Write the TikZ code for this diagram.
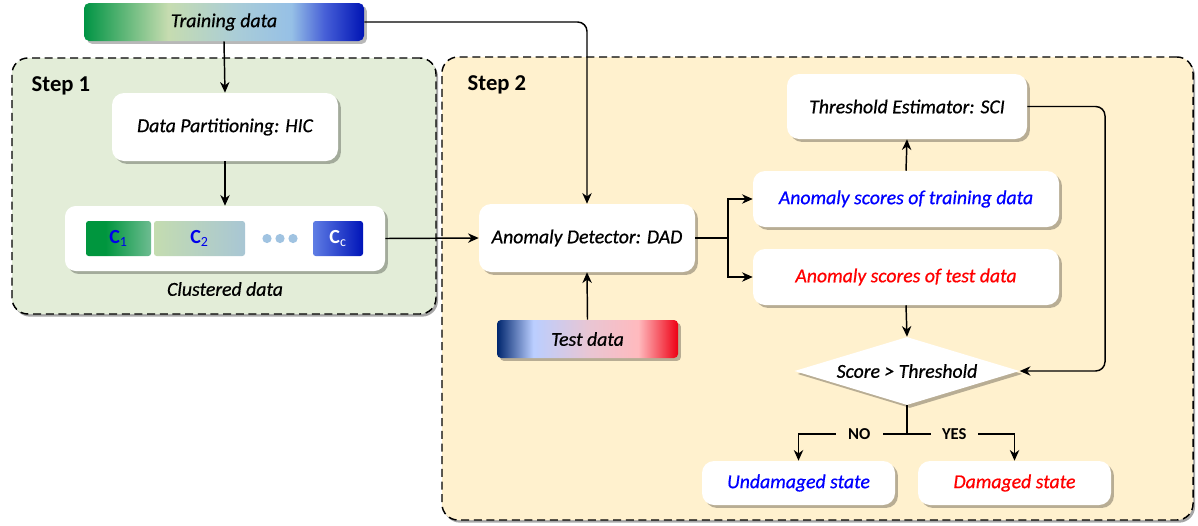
\documentclass[tikz,border=0pt]{standalone}
\usepackage{fontspec}
\setmainfont{Carlito}
\newfontfamily\lblfont{Carlito}[UprightFont={* Italic}, FakeBold=0.7]
\usetikzlibrary{arrows.meta,shapes.geometric,shadows,positioning}
\definecolor{greenbg}{RGB}{227,237,216}
\definecolor{yellowbg}{RGB}{255,241,206}
\definecolor{tg1}{RGB}{0,148,68}
\definecolor{tg2}{RGB}{198,220,176}
\definecolor{tg3}{RGB}{170,205,215}
\definecolor{tg4}{RGB}{150,192,230}
\definecolor{tg5}{RGB}{70,95,215}
\definecolor{tg6}{RGB}{0,20,180}
\definecolor{te1}{RGB}{0,38,110}
\definecolor{te2}{RGB}{186,206,255}
\definecolor{te3}{RGB}{232,198,212}
\definecolor{te4}{RGB}{255,186,190}
\definecolor{te5}{RGB}{238,0,20}
\definecolor{ca1}{RGB}{0,150,62}
\definecolor{ca2}{RGB}{110,188,145}
\definecolor{cb1}{RGB}{196,220,176}
\definecolor{cb2}{RGB}{168,198,212}
\definecolor{cc1}{RGB}{95,125,228}
\definecolor{cc2}{RGB}{0,20,185}
\definecolor{dotc}{RGB}{160,195,225}
\definecolor{cblue}{RGB}{0,0,235}
\definecolor{tblue}{RGB}{0,0,255}
\definecolor{tred}{RGB}{255,0,0}
\pgfdeclarehorizontalshading{trainshade}{100bp}{color(0bp)=(tg1); color(25bp)=(tg1); color(40bp)=(tg2); color(52bp)=(tg3); color(62bp)=(tg4); color(68bp)=(tg5); color(75bp)=(tg6); color(100bp)=(tg6)}
\pgfdeclarehorizontalshading{testshade}{100bp}{color(0bp)=(te1); color(25bp)=(te1); color(35bp)=(te2); color(50bp)=(te3); color(64bp)=(te4); color(75bp)=(te5); color(100bp)=(te5)}
\pgfdeclarehorizontalshading{cashade}{100bp}{color(0bp)=(ca1); color(25bp)=(ca1); color(40bp)=(ca1); color(75bp)=(ca2); color(100bp)=(ca2)}
\pgfdeclarehorizontalshading{cbshade}{100bp}{color(0bp)=(cb1); color(25bp)=(cb1); color(75bp)=(cb2); color(100bp)=(cb2)}
\pgfdeclarehorizontalshading{ccshade}{100bp}{color(0bp)=(cc1); color(25bp)=(cc1); color(75bp)=(cc2); color(100bp)=(cc2)}
\tikzset{
  txt/.style={font=\fontsize{14.8}{17}\lblfont},
  shadowed/.style={drop shadow={shadow xshift=2.2pt,shadow yshift=-2.2pt,opacity=0.28,fill=black}},
  wbox/.style={draw=none,fill=white,rounded corners=9pt,shadowed,txt,inner sep=0pt},
  gbox/.style={draw=none,rounded corners=4pt,shadowed,txt,inner sep=0pt},
  cbox/.style={draw=none,rounded corners=2pt,inner sep=0pt,minimum height=26.25pt,font=\fontsize{15}{17}\selectfont\bfseries},
  stepbox/.style={draw=black,dashed,dash pattern=on 6pt off 3.5pt,line width=1.1pt,rounded corners=12pt,drop shadow={shadow xshift=1.5pt,shadow yshift=-2pt,opacity=0.35,fill=black},inner sep=0pt},
  steplabel/.style={font=\fontsize{17}{19}\selectfont\bfseries},
  conn/.style={line width=1.1pt,-{Stealth[length=8pt,width=7pt,inset=2.5pt]}},
  plain/.style={line width=1.1pt},
  yn/.style={font=\fontsize{12.5}{14}\selectfont\bfseries,fill=yellowbg,inner sep=3pt,minimum width=35pt}
}
\begin{document}
\begin{tikzpicture}[x=0.75pt,y=-0.75pt]
\useasboundingbox (0,0) rectangle (1198,525);
% containers
\node[stepbox,fill=greenbg,minimum width=318pt,minimum height=192pt] (step1) at (224,186) {};
\node[stepbox,fill=yellowbg,minimum width=563.25pt,minimum height=347.25pt] (step2) at (817.5,288.5) {};
\node[steplabel,anchor=west] (s1lab) at (27,86) {Step 1};
\node[steplabel,anchor=west] (s2lab) at (463,85) {Step 2};
% step 1
\node[gbox,shading=trainshade,minimum width=210pt,minimum height=28.5pt] (train) at (224,22) {Training data};
\node[wbox,minimum width=169.5pt,minimum height=51pt] (dp) at (225,127) {Data Partitioning: HIC};
\node[wbox,rounded corners=8pt,minimum width=240pt,minimum height=48.75pt] (clu) at (225,238.5) {};
\node[cbox,shading=cashade,minimum width=48.75pt,text=cblue] (c1) at (118.5,238.5) {C\textsubscript{\mdseries 1}};
\node[cbox,shading=cbshade,minimum width=68.25pt,text=cblue] (c2) at (199.5,238.5) {C\textsubscript{\mdseries 2}};
\node[cbox,shading=ccshade,minimum width=37.5pt,text=white] (cc) at (338,238.5) {C\textsubscript{\mdseries c}};
\fill[dotc] (267,238.5) circle (4.6) (280,238.5) circle (4.6) (293,238.5) circle (4.6);
\node[txt] (clulab) at (225,289) {Clustered data};
% step 2
\node[wbox,minimum width=162pt,minimum height=51pt] (ad) at (587,238) {Anomaly Detector: DAD};
\node[gbox,shading=testshade,rounded corners=3pt,minimum width=135.75pt,minimum height=28.5pt] (test) at (587.5,339) {Test data};
\node[wbox,minimum width=180pt,minimum height=48.75pt] (te) at (907,106.5) {Threshold Estimator: SCI};
\node[wbox,minimum width=229.5pt,minimum height=42pt,text=tblue] (ast) at (906,199) {Anomaly scores of training data};
\node[wbox,minimum width=229.5pt,minimum height=42pt,text=tred] (ase) at (906,277) {Anomaly scores of test data};
\node[diamond,fill=white,shadowed,txt,aspect=3.3,minimum width=168.75pt,minimum height=51pt,inner sep=0pt] (dec) at (907,371) {Score > Threshold};
\node[wbox,minimum width=144.75pt,minimum height=33pt,text=tblue] (und) at (798.5,483) {Undamaged state};
\node[wbox,minimum width=144.75pt,minimum height=33pt,text=tred] (dam) at (1014.5,483) {Damaged state};
% connectors
\draw[conn] (train.south) -- (dp.north);
\draw[conn] (dp.south) -- (clu.north);
\draw[conn,rounded corners=7pt] (train.east) -| (ad.north);
\draw[conn] (clu.east) -- (ad.west);
\draw[conn] (test.north) -- (ad.south);
\coordinate (br) at (728,238);
\draw[plain] (ad.east) -- (br);
\draw[conn] (br) |- (ast.west);
\draw[conn] (br) |- (ase.west);
\draw[conn] (ast.north) -- (te.south);
\draw[conn] (ase.south) -- (dec.north);
\coordinate (rt) at (1105,106.5);
\draw[conn,rounded corners=7pt] (te.east) -- (rt) |- (dec.east);
\coordinate (sp) at (907,434);
\draw[plain] (dec.south) -- (sp);
\draw[conn] (sp) -| node[yn,pos=0.22] {NO} (und.north);
\draw[conn] (sp) -| node[yn,pos=0.22] {YES} (dam.north);
\end{tikzpicture}
\end{document}
